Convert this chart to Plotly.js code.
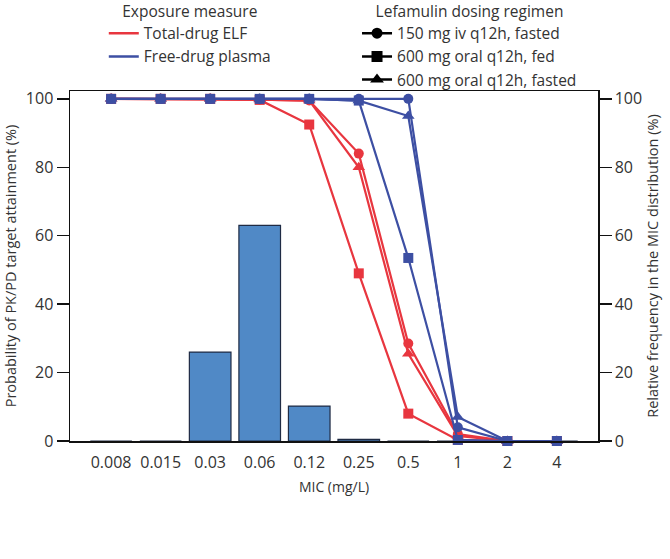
<!DOCTYPE html>
<html><head><meta charset="utf-8">
<script src="https://cdn.plot.ly/plotly-3.0.1.min.js"></script>
<style>html,body{margin:0;padding:0;background:#fff}#c{width:670px;height:559px}</style>
</head><body><div id="c"></div>
<script>
const micLabels = ["0.008","0.015","0.03","0.06","0.12","0.25","0.5","1","2","4"];
const micFrequency = [0, 0, 26, 63, 10.2, 0.5, 0, 0, 0, 0];
const elfIv150Fasted   = [100, 100, 100, 99.8, 99.5, 84, 28.5, 2, 0, 0];
const elfOral600Fed    = [100, 100, 100, 99.7, 92.5, 49, 8, 0.3, 0, 0];
const elfOral600Fasted = [100, 100, 100, 99.8, 99.5, 80, 25.5, 1.5, 0, 0];
const plasmaIv150Fasted   = [100, 100, 100, 100, 100, 100, 100, 4, 0, 0];
const plasmaOral600Fed    = [100, 100, 100, 100, 100, 99.5, 53.5, 0.3, 0, 0];
const plasmaOral600Fasted = [100, 100, 100, 100, 100, 99.5, 95, 7, 0, 0];

const RED = "#e8363f", BLUE = "#3d4fa3";
const FONT = "Open Sans, DejaVu Sans, sans-serif";
const TXT = "#333";

function line(y, color, symbol, size) {
  return {x: micLabels, y: y, type: "scatter", mode: "lines+markers", yaxis: "y2",
    line: {color: color, width: 2.2}, marker: {color: color, symbol: symbol, size: size},
    cliponaxis: false, showlegend: false, hoverinfo: "skip"};
}
const traces = [
  {x: micLabels, y: micFrequency, type: "bar", width: 0.84,
   marker: {color: "#5089c6", line: {color: "#1f2b44", width: 1.2}},
   showlegend: false, hoverinfo: "skip"},
  line(elfOral600Fed, RED, "square", 10),
  line(elfOral600Fasted, RED, "triangle-up", 11),
  line(elfIv150Fasted, RED, "circle", 10),
  line(plasmaOral600Fed, BLUE, "square", 10),
  line(plasmaIv150Fasted, BLUE, "circle", 10),
  line(plasmaOral600Fasted, BLUE, "triangle-up", 11),
  {x: [null], y: [null], type: "scatter", mode: "lines", name: "Total-drug ELF", line: {color: RED, width: 2.5}, legend: "legend"},
  {x: [null], y: [null], type: "scatter", mode: "lines", name: "Free-drug plasma", line: {color: BLUE, width: 2.5}, legend: "legend"},
  {x: [null], y: [null], type: "scatter", mode: "lines+markers", name: "150 mg iv q12h, fasted", line: {color: "#000", width: 2.5}, marker: {symbol: "circle", size: 11, color: "#000"}, legend: "legend2"},
  {x: [null], y: [null], type: "scatter", mode: "lines+markers", name: "600 mg oral q12h, fed", line: {color: "#000", width: 2.5}, marker: {symbol: "square", size: 11, color: "#000"}, legend: "legend2"},
  {x: [null], y: [null], type: "scatter", mode: "lines+markers", name: "600 mg oral q12h, fasted", line: {color: "#000", width: 2.5}, marker: {symbol: "triangle-up", size: 12, color: "#000"}, legend: "legend2"}
];

const yr = [0, 102.3];
const legFont = {size: 15.5, color: TXT};
const layout = {
  width: 670, height: 559,
  margin: {l: 70, r: 72, t: 91, b: 118, autoexpand: false},
  paper_bgcolor: "#fff", plot_bgcolor: "#fff",
  font: {family: FONT, size: 13, color: TXT},
  showlegend: true,
  xaxis: {type: "category", range: [-0.83, 9.83], showline: true, mirror: true,
    linecolor: "#111", linewidth: 1.5, ticks: "", showgrid: false, zeroline: false,
    tickfont: {size: 16, color: TXT}, ticklabelstandoff: 6,
    title: {text: "MIC (mg/L)", font: {size: 14, color: TXT}, standoff: 10}},
  yaxis: {range: yr, tickvals: [0,20,40,60,80,100], showline: true, linecolor: "#111", linewidth: 1.5,
    ticks: "outside", ticklen: 12, tickwidth: 1.5, tickcolor: "#111", showgrid: false, zeroline: false,
    tickfont: {size: 16, color: TXT},
    title: {text: "Probability of PK/PD target attainment (%)", font: {size: 14.5, color: TXT}, standoff: 6}},
  yaxis2: {range: yr, tickvals: [0,20,40,60,80,100], overlaying: "y", side: "right", showline: true,
    linecolor: "#111", linewidth: 1.5, ticks: "outside", ticklen: 12, tickwidth: 1.5, tickcolor: "#111",
    showgrid: false, zeroline: false, tickfont: {size: 16, color: TXT},
    title: {text: "Relative frequency in the MIC distribution (%)", font: {size: 14.5, color: TXT}, standoff: 6}},
  legend: {x: 0.064, y: 1.27, xref: "paper", yref: "paper", xanchor: "left", yanchor: "top",
    bgcolor: "rgba(0,0,0,0)", font: legFont, itemwidth: 30, tracegroupgap: 0,
    title: {text: "Exposure measure", side: "top center", font: legFont}},
  legend2: {x: 0.5436, y: 1.27, xref: "paper", yref: "paper", xanchor: "left", yanchor: "top",
    bgcolor: "rgba(0,0,0,0)", font: legFont, itemwidth: 30, tracegroupgap: 0,
    title: {text: "Lefamulin dosing regimen", side: "top center", font: legFont}}
};
Plotly.newPlot("c", traces, layout, {displayModeBar: false, staticPlot: true});
</script></body></html>
